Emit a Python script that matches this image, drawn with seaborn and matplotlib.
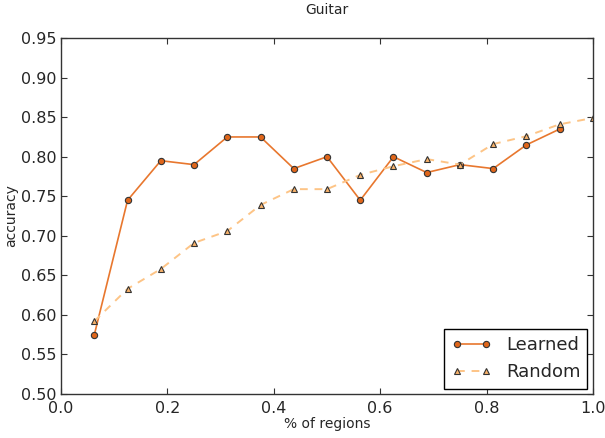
import numpy as np
import pandas as pd
import matplotlib
matplotlib.use('Agg')
import matplotlib.pyplot as plt
import seaborn as sns

# fraction of regions
x_learned = [0.0625, 0.125, 0.1875, 0.25, 0.3125, 0.375, 0.4375, 0.5, 0.5625,
             0.625, 0.6875, 0.75, 0.8125, 0.875, 0.9375]
acc_learned = [0.575, 0.745, 0.795, 0.79, 0.825, 0.825, 0.785, 0.80, 0.745,
               0.80, 0.78, 0.79, 0.785, 0.815, 0.835]
x_random = [0.0625, 0.125, 0.1875, 0.25, 0.3125, 0.375, 0.4375, 0.5, 0.5625,
            0.625, 0.6875, 0.75, 0.8125, 0.875, 0.9375, 1.0]
acc_random = [0.592, 0.633, 0.658, 0.691, 0.706, 0.739, 0.759, 0.759, 0.777,
              0.788, 0.797, 0.790, 0.816, 0.826, 0.841, 0.849]

sns.set_style('white')
plt.rcParams['font.family'] = ['DejaVu Sans']
plt.rcParams['xtick.direction'] = 'in'
plt.rcParams['ytick.direction'] = 'in'

fig = plt.figure(figsize=(6.05, 4.38), dpi=100)
ax = fig.add_axes([0.101, 0.1005, 0.879, 0.8125])

sns.lineplot(x=x_learned, y=acc_learned, ax=ax, color='#e8772e', linewidth=1.2,
             marker='o', markersize=4.5, markerfacecolor='#e0661a',
             markeredgecolor='#333333', markeredgewidth=0.8, label='Learned')
sns.lineplot(x=x_random, y=acc_random, ax=ax, color='#fdc486', linewidth=1.4,
             dashes=(4, 3.5), marker='^', markersize=4.5, markerfacecolor='#f9b26a',
             markeredgecolor='#333333', markeredgewidth=0.8, label='Random')

ax.set_xlim(0, 1.0)
ax.set_ylim(0.50, 0.95)
ax.set_xticks(np.arange(0, 1.01, 0.2))
ax.set_yticks(np.arange(0.50, 0.951, 0.05))
ax.set_yticklabels([f'{v:.2f}' for v in np.arange(0.50, 0.951, 0.05)])
ax.tick_params(axis='both', labelsize=11.5, length=4, width=0.8,
               top=True, right=True, bottom=True, left=True, color='#333333')
ax.tick_params(axis='x', pad=5)
ax.tick_params(axis='y', pad=3)
for s in ax.spines.values():
    s.set_visible(True)
    s.set_color('#333333')
    s.set_linewidth(1.0)
ax.set_xlabel('% of regions', fontsize=10, labelpad=1)
ax.set_ylabel('accuracy', fontsize=10, labelpad=2)
ax.set_title('Guitar', fontsize=10, pad=17)

leg = ax.legend(loc='lower right', fontsize=13, numpoints=2, fancybox=False,
                framealpha=1, edgecolor='black', borderaxespad=0.3,
                handlelength=2.2)
leg.get_frame().set_linewidth(1.0)

fig.savefig('out.png', dpi=100)
